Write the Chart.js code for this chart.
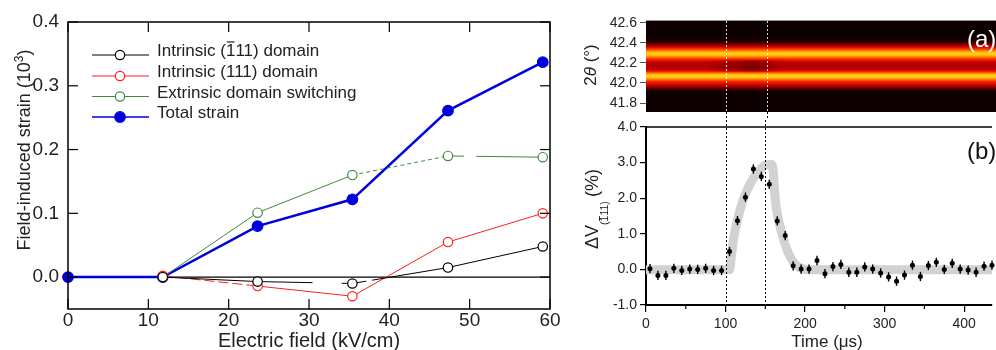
<!DOCTYPE html>
<html>
<head>
<meta charset="utf-8">
<script src="https://cdn.jsdelivr.net/npm/chart.js@4.4.0/dist/chart.umd.min.js"></script>
<style>
  html, body { margin: 0; padding: 0; background: #fff; }
  body { width: 996px; height: 350px; overflow: hidden; position: relative; }
  canvas { position: absolute; }
  #strainChart { left: 0; top: 0; }
  #heatChart { left: 575px; top: 0; }
  #dvChart { left: 575px; top: 120px; }
</style>
</head>
<body>
<canvas id="strainChart" width="580" height="350"></canvas>
<canvas id="heatChart" width="421" height="120"></canvas>
<canvas id="dvChart" width="421" height="230"></canvas>
<script>
// strain vs field (left panel)
const fieldKVcm = [0, 11.8, 23.6, 35.4, 47.3, 59.1];
const strainIntrinsicBar = [null, 0, -0.007, -0.010, 0.015, 0.048];
const strainIntrinsic111 = [null, 0.002, -0.014, -0.030, 0.055, 0.100];
const strainExtrinsic = [null, 0, 0.101, 0.160, 0.190, 0.188];
const strainTotal = [0, 0, 0.080, 0.122, 0.261, 0.337];
const seriesNames = ['Intrinsic (1\u030511) domain', 'Intrinsic (111) domain', 'Extrinsic domain switching', 'Total strain'];
const fieldTicks = [0, 10, 20, 30, 40, 50, 60];
const strainTicks = [0, 0.1, 0.2, 0.3, 0.4];

// time-resolved volume fraction change (right panel)
const timeUs = [5, 15, 25, 35, 45, 55, 65, 75, 85, 95, 105, 115, 125, 135, 145, 155, 165, 175, 185, 195,
  205, 215, 225, 235, 245, 255, 265, 275, 285, 295, 305, 315, 325, 335, 345, 355, 365, 375, 385, 395,
  405, 415, 425, 435];
const dV111 = [0.02, -0.17, -0.17, 0.03, -0.03, 0.01, 0.00, 0.03, -0.03, -0.03, 0.50, 1.37, 2.03, 2.82, 2.61, 2.39, 1.36, 0.95, 0.10, 0.01,
  0.01, 0.25, -0.12, 0.08, 0.14, -0.08, -0.08, 0.07, 0.01, -0.10, -0.21, -0.33, -0.16, 0.12, -0.20, 0.11, 0.20, 0.00, 0.17, 0.01,
  -0.02, -0.08, 0.09, 0.12];
const dVErr = 0.13;
const fitTime = [0, 105, 107, 110, 115, 120, 125, 130, 135, 140, 145, 150, 158, 160, 162, 164, 167, 172, 179, 185, 191, 197, 203, 435];
const fitDV = [-0.01, -0.01, 0.3, 0.85, 1.39, 1.8, 2.12, 2.36, 2.56, 2.72, 2.84, 2.93, 2.95, 2.75, 2.1, 1.7, 1.35, 0.92, 0.46, 0.22, 0.08, 0.02, -0.01, -0.01];
const pulseMarks = [100, 150];
const timeTicks = [0, 100, 200, 300, 400];
const timeMinorTicks = [50, 150, 250, 350];
const dvTicks = [-1, 0, 1, 2, 3, 4];

// 2theta intensity map: one profile over 2theta, dimmed between the peaks during the pulse
const thetaRows = [41.70, 41.72, 41.74, 41.76, 41.78, 41.80, 41.82, 41.84, 41.86, 41.88, 41.90, 41.92, 41.94, 41.96, 41.98,
  42.00, 42.02, 42.04, 42.06, 42.08, 42.10, 42.12, 42.14, 42.16, 42.18, 42.20, 42.22, 42.24, 42.26, 42.28, 42.30,
  42.32, 42.34, 42.36, 42.38, 42.40, 42.42, 42.44, 42.46, 42.48, 42.50, 42.52, 42.54, 42.56, 42.58, 42.60, 42.62];
const rowIntensity = [0.02, 0.02, 0.02, 0.02, 0.02, 0.02, 0.02, 0.02, 0.02, 0.02, 0.02, 0.05, 0.16, 0.32, 0.47,
  0.57, 0.66, 0.82, 0.93, 0.92, 0.78, 0.56, 0.44, 0.41, 0.41, 0.44, 0.53, 0.65, 0.80, 0.91, 0.93,
  0.82, 0.66, 0.50, 0.33, 0.17, 0.07, 0.04, 0.02, 0.02, 0.02, 0.02, 0.02, 0.02, 0.02, 0.02, 0.02];
const heatColStep = 10;
const valleyDim = [0, 0, 0, 0, 0, 0, 0, 0, 0.2, 0.4, 0.55, 0.7, 0.9, 1.0, 0.8, 0.4, 0.1, 0,
  0, 0, 0, 0, 0, 0, 0, 0, 0, 0, 0, 0, 0, 0, 0, 0, 0, 0, 0, 0, 0, 0, 0, 0, 0, 0];
const thetaTicks = [41.8, 42.0, 42.2, 42.4, 42.6];

const FONT = '"Liberation Sans", Arial, sans-serif';
Chart.defaults.font.family = FONT;
Chart.defaults.color = '#222';

function pts(xs, ys) {
  return xs.map((x, i) => ({ x: x, y: ys[i] })).filter(p => p.y !== null);
}

function line(ctx, x0, y0, x1, y1) {
  ctx.beginPath();
  ctx.moveTo(x0, y0);
  ctx.lineTo(x1, y1);
  ctx.stroke();
}

// keep chart areas where the layout padding puts them
function noLabelPadding(s) {
  s.paddingTop = 0;
  s.paddingBottom = 0;
  s.paddingLeft = 0;
  s.paddingRight = 0;
}

// draws text, putting a bar over any character followed by U+0305
function drawBarred(ctx, text, x, y, size) {
  const parts = text.split('\u0305');
  let cx = x;
  parts.forEach((p, i) => {
    ctx.fillText(p, cx, y);
    const w = ctx.measureText(p).width;
    if (i < parts.length - 1) {
      const cw = ctx.measureText(p.slice(-1)).width;
      ctx.fillRect(cx + w - cw + size * 0.05, y - size * 0.86, cw - size * 0.1, Math.max(1, size * 0.07));
    }
    cx += w;
  });
  return cx - x;
}
function barredWidth(ctx, text) {
  return ctx.measureText(text.replace(/\u0305/g, '')).width;
}

// ---------- left panel ----------
const seriesStyle = [
  { color: '#000000', width: 1, fill: '#ffffff', radius: 4.7, dash: [[], [55, 29, 8, 100], [14, 6, 200, 0], []] },
  { color: '#ff1f1f', width: 1, fill: '#ffffff', radius: 4.7, dash: [[10, 4], [], [], []] },
  { color: '#3d8b3d', width: 1, fill: '#ffffff', radius: 4.7, dash: [[], [], [4, 3], [16, 12, 200, 0]] },
  { color: '#0000dc', width: 2.5, fill: '#0000dc', radius: 5.3, dash: [] }
];
const strainData = [strainIntrinsicBar, strainIntrinsic111, strainExtrinsic, strainTotal];

const strainFrame = {
  id: 'strainFrame',
  beforeDatasetsDraw(chart) {
    const { ctx, chartArea: a, scales: { y } } = chart;
    ctx.save();
    ctx.strokeStyle = '#000';
    ctx.lineWidth = 1.2;
    const y0 = y.getPixelForValue(0);
    line(ctx, a.left, y0, a.right, y0);
    ctx.restore();
  },
  afterDatasetsDraw(chart) {
    const { ctx, chartArea: a, scales: { x, y } } = chart;
    ctx.save();
    ctx.strokeStyle = '#000';
    ctx.lineWidth = 1.2;
    fieldTicks.forEach(v => {
      const px = x.getPixelForValue(v);
      line(ctx, px, a.bottom, px, a.bottom - 10);
      line(ctx, px, a.top, px, a.top + 10);
    });
    strainTicks.forEach(v => {
      const py = y.getPixelForValue(v);
      line(ctx, a.left, py, a.left + 10, py);
      line(ctx, a.right, py, a.right - 10, py);
    });
    ctx.lineWidth = 1.5;
    ctx.strokeRect(a.left, a.top, a.right - a.left, a.bottom - a.top);
    ctx.restore();
  },
  afterDraw(chart) {
    const { ctx } = chart;
    ctx.save();
    // legend
    const rowY = [55, 76, 96.5, 117];
    seriesNames.forEach((name, i) => {
      const st = seriesStyle[i];
      const yy = rowY[i];
      ctx.strokeStyle = st.color;
      ctx.lineWidth = st.width === 1 ? 1 : 1.5;
      ctx.setLineDash([]);
      line(ctx, 92, yy, 149, yy);
      ctx.beginPath();
      ctx.arc(120, yy, st.radius, 0, Math.PI * 2);
      ctx.fillStyle = st.fill;
      ctx.fill();
      ctx.lineWidth = 1.2;
      ctx.stroke();
      ctx.fillStyle = '#222';
      ctx.font = '17px ' + FONT;
      ctx.textBaseline = 'alphabetic';
      ctx.textAlign = 'left';
      drawBarred(ctx, name, 157, yy + 1, 17);
    });
    // axis titles
    ctx.fillStyle = '#222';
    ctx.font = '20px ' + FONT;
    ctx.textAlign = 'center';
    ctx.textBaseline = 'middle';
    ctx.fillText('Electric field (kV/cm)', 309, 341);

    ctx.translate(23, 150);
    ctx.rotate(-Math.PI / 2);
    ctx.textAlign = 'left';
    ctx.textBaseline = 'alphabetic';
    const main = 'Field-induced strain (10';
    ctx.font = '18px ' + FONT;
    const w1 = ctx.measureText(main).width;
    ctx.font = '12px ' + FONT;
    const w2 = ctx.measureText('3').width;
    ctx.font = '18px ' + FONT;
    const w3 = ctx.measureText(')').width;
    let u = -(w1 + w2 + w3) / 2;
    ctx.fillText(main, u, 7);
    u += w1;
    ctx.font = '12px ' + FONT;
    ctx.fillText('3', u, 0);
    u += w2;
    ctx.font = '18px ' + FONT;
    ctx.fillText(')', u, 7);
    ctx.restore();
  }
};

new Chart(document.getElementById('strainChart'), {
  type: 'line',
  data: {
    datasets: strainData.map((vals, i) => {
      const st = seriesStyle[i];
      return {
        label: seriesNames[i],
        data: pts(fieldKVcm, vals),
        borderColor: st.color,
        borderWidth: st.width,
        pointRadius: st.radius,
        pointBorderWidth: 1.2,
        pointBackgroundColor: st.fill,
        pointBorderColor: st.color,
        tension: 0,
        clip: false,
        segment: { borderDash: c => st.dash[c.p0DataIndex] || [] }
      };
    })
  },
  options: {
    responsive: false,
    animation: false,
    events: [],
    layout: { padding: { top: 22, right: 30, left: 0, bottom: 0 } },
    plugins: { legend: { display: false }, tooltip: { enabled: false } },
    scales: {
      x: {
        type: 'linear', min: 0, max: 60,
        afterFit: s => { s.height = 41; noLabelPadding(s); },
        afterBuildTicks: s => { s.ticks = fieldTicks.map(v => ({ value: v })); },
        grid: { display: false, drawTicks: false },
        border: { display: false },
        ticks: { font: { size: 19 }, color: '#222', padding: 0, maxRotation: 0, autoSkip: false }
      },
      y: {
        type: 'linear', min: -0.05, max: 0.4,
        afterFit: s => { s.width = 68; noLabelPadding(s); },
        afterBuildTicks: s => { s.ticks = strainTicks.map(v => ({ value: v })); },
        grid: { display: false, drawTicks: false },
        border: { display: false },
        ticks: { font: { size: 19 }, color: '#222', padding: 9, callback: v => v.toFixed(1) }
      }
    }
  },
  plugins: [strainFrame]
});

// ---------- right panel (a): intensity map ----------
const hotStops = [[0, [5, 0, 0]], [0.2, [90, 0, 0]], [0.4, [175, 0, 0]], [0.55, [228, 8, 0]],
  [0.7, [255, 70, 0]], [0.82, [255, 140, 0]], [0.92, [255, 205, 20]], [1, [255, 235, 80]]];
function hot(v) {
  v = Math.max(0, Math.min(1, v));
  for (let k = 1; k < hotStops.length; k++) {
    if (v <= hotStops[k][0]) {
      const [a0, c0] = hotStops[k - 1];
      const [a1, c1] = hotStops[k];
      const f = (v - a0) / (a1 - a0);
      return c0.map((c, j) => Math.round(c + (c1[j] - c) * f));
    }
  }
  return hotStops[hotStops.length - 1][1];
}

const heatMap = {
  id: 'heatMap',
  beforeDatasetsDraw(chart) {
    const { ctx, chartArea: a, scales: { x, y } } = chart;
    const cols = valleyDim.length, rows = thetaRows.length;
    const off = document.createElement('canvas');
    off.width = cols;
    off.height = rows;
    const octx = off.getContext('2d');
    const img = octx.createImageData(cols, rows);
    for (let r = 0; r < rows; r++) {
      const j = rows - 1 - r;
      const th = thetaRows[j];
      for (let c = 0; c < cols; c++) {
        let v = rowIntensity[j];
        if (th > 42.11 && th < 42.23) v *= 1 - 0.3 * valleyDim[c];
        const col = hot(v);
        const k = (r * cols + c) * 4;
        img.data[k] = col[0];
        img.data[k + 1] = col[1];
        img.data[k + 2] = col[2];
        img.data[k + 3] = 255;
      }
    }
    octx.putImageData(img, 0, 0);
    const x0 = x.getPixelForValue(0), x1 = x.getPixelForValue(cols * heatColStep);
    const y0 = y.getPixelForValue(thetaRows[rows - 1] + 0.01), y1 = y.getPixelForValue(thetaRows[0] - 0.01);
    ctx.save();
    ctx.beginPath();
    ctx.rect(a.left, a.top, a.right - a.left, a.bottom - a.top);
    ctx.clip();
    ctx.imageSmoothingEnabled = true;
    ctx.drawImage(off, x0, y0, x1 - x0, y1 - y0);
    ctx.strokeStyle = 'rgba(255,255,255,0.85)';
    ctx.lineWidth = 1;
    ctx.setLineDash([2, 2]);
    pulseMarks.forEach(t => {
      const px = Math.round(x.getPixelForValue(t)) + 0.5;
      line(ctx, px, a.top, px, a.bottom);
    });
    ctx.restore();
  },
  afterDraw(chart) {
    const { ctx, chartArea: a, scales: { x } } = chart;
    ctx.save();
    ctx.strokeStyle = '#000';
    ctx.lineWidth = 1;
    ctx.setLineDash([2, 2]);
    pulseMarks.forEach(t => {
      const px = Math.round(x.getPixelForValue(t)) + 0.5;
      line(ctx, px, a.bottom, px, chart.height);
    });
    ctx.setLineDash([]);
    ctx.strokeStyle = '#9a9a9a';
    line(ctx, a.left, a.top - 0.5, a.right, a.top - 0.5);

    ctx.fillStyle = '#ffffff';
    ctx.font = '24px ' + FONT;
    ctx.textAlign = 'left';
    ctx.textBaseline = 'middle';
    ctx.fillText('(a)', 392, 40);

    ctx.fillStyle = '#222';
    ctx.translate(15, 65);
    ctx.rotate(-Math.PI / 2);
    ctx.textBaseline = 'alphabetic';
    ctx.font = '17px ' + FONT;
    const wa = ctx.measureText('2').width;
    ctx.font = 'italic 17px ' + FONT;
    const wb = ctx.measureText('\u03b8').width;
    ctx.font = '17px ' + FONT;
    const wc = ctx.measureText(' (\u00b0)').width;
    let u = -(wa + wb + wc) / 2;
    ctx.fillText('2', u, 6);
    u += wa;
    ctx.font = 'italic 17px ' + FONT;
    ctx.fillText('\u03b8', u, 6);
    u += wb;
    ctx.font = '17px ' + FONT;
    ctx.fillText(' (\u00b0)', u, 6);
    ctx.restore();
  }
};

new Chart(document.getElementById('heatChart'), {
  type: 'scatter',
  data: { datasets: [] },
  options: {
    responsive: false,
    animation: false,
    events: [],
    layout: { padding: { top: 21, right: 0, left: 0, bottom: 8 } },
    plugins: { legend: { display: false }, tooltip: { enabled: false } },
    scales: {
      x: { type: 'linear', min: 0, max: 435, display: false },
      y: {
        type: 'linear', min: 41.71, max: 42.62,
        afterFit: s => { s.width = 71; noLabelPadding(s); },
        afterBuildTicks: s => { s.ticks = thetaTicks.map(v => ({ value: v })); },
        grid: { drawOnChartArea: false, drawTicks: true, tickLength: 6, color: '#555', lineWidth: 1 },
        border: { display: false },
        ticks: { font: { size: 14 }, color: '#222', padding: 3, callback: v => v.toFixed(1) }
      }
    }
  },
  plugins: [heatMap]
});

// ---------- right panel (b): volume fraction change ----------
const dvDecor = {
  id: 'dvDecor',
  afterDatasetsDraw(chart) {
    const { ctx, chartArea: a, scales: { x, y } } = chart;
    ctx.save();
    // error bars
    ctx.strokeStyle = '#000';
    ctx.lineWidth = 1.4;
    timeUs.forEach((t, i) => {
      const px = x.getPixelForValue(t);
      line(ctx, px, y.getPixelForValue(dV111[i] - dVErr), px, y.getPixelForValue(dV111[i] + dVErr));
    });
    // pulse window
    ctx.lineWidth = 1;
    ctx.setLineDash([2, 2]);
    pulseMarks.forEach(t => {
      const px = Math.round(x.getPixelForValue(t)) + 0.5;
      line(ctx, px, 0, px, a.bottom);
    });
    ctx.setLineDash([]);
    // frame top and minor ticks
    ctx.lineWidth = 1.5;
    line(ctx, a.left, a.top, a.right, a.top);
    ctx.lineWidth = 1.2;
    timeMinorTicks.forEach(t => {
      const px = x.getPixelForValue(t);
      line(ctx, px, a.bottom, px, a.bottom + 4);
    });
    ctx.restore();
  },
  afterDraw(chart) {
    const { ctx } = chart;
    ctx.save();
    ctx.fillStyle = '#111';
    ctx.font = '24px ' + FONT;
    ctx.textAlign = 'left';
    ctx.textBaseline = 'middle';
    ctx.fillText('(b)', 392, 32);

    ctx.fillStyle = '#222';
    ctx.font = '17px ' + FONT;
    ctx.textAlign = 'center';
    ctx.fillText('Time (\u03bcs)', 252, 222);

    ctx.translate(17, 89);
    ctx.rotate(-Math.PI / 2);
    ctx.textAlign = 'left';
    ctx.textBaseline = 'alphabetic';
    const sub = '(1\u030511)';
    ctx.font = '18px ' + FONT;
    const w1 = ctx.measureText('\u0394V').width;
    const w3 = ctx.measureText(' (%)').width;
    ctx.font = '10.5px ' + FONT;
    const w2 = barredWidth(ctx, sub);
    let u = -(w1 + w2 + w3) / 2;
    ctx.font = '18px ' + FONT;
    ctx.fillText('\u0394V', u, 6);
    u += w1;
    ctx.font = '10.5px ' + FONT;
    drawBarred(ctx, sub, u, 16, 10.5);
    u += w2;
    ctx.font = '18px ' + FONT;
    ctx.fillText(' (%)', u, 6);
    ctx.restore();
  }
};

new Chart(document.getElementById('dvChart'), {
  type: 'scatter',
  data: {
    datasets: [
      {
        type: 'line',
        data: pts(fitTime, fitDV),
        borderColor: '#d2d2d2',
        borderWidth: 9,
        borderCapStyle: 'butt',
        pointRadius: 0,
        cubicInterpolationMode: 'monotone',
        order: 2
      },
      {
        data: pts(timeUs, dV111),
        pointRadius: 2.5,
        pointBackgroundColor: '#000',
        pointBorderWidth: 0,
        clip: false,
        order: 1
      }
    ]
  },
  options: {
    responsive: false,
    animation: false,
    events: [],
    layout: { padding: { top: 7, right: 0, left: 0, bottom: 0 } },
    plugins: { legend: { display: false }, tooltip: { enabled: false } },
    scales: {
      x: {
        type: 'linear', min: 0, max: 435,
        afterFit: s => { s.height = 45; noLabelPadding(s); },
        afterBuildTicks: s => { s.ticks = timeTicks.map(v => ({ value: v })); },
        grid: { drawOnChartArea: false, drawTicks: true, tickLength: 7, color: '#000', lineWidth: 1.2 },
        border: { display: true, color: '#000', width: 2 },
        ticks: { font: { size: 14 }, color: '#222', padding: 4, maxRotation: 0, autoSkip: false }
      },
      y: {
        type: 'linear', min: -1, max: 4,
        afterFit: s => { s.width = 71; noLabelPadding(s); },
        afterBuildTicks: s => { s.ticks = dvTicks.map(v => ({ value: v })); },
        grid: { drawOnChartArea: false, drawTicks: true, tickLength: 6, color: '#000', lineWidth: 1.2 },
        border: { display: true, color: '#000', width: 2 },
        ticks: { font: { size: 14 }, color: '#222', padding: 3, callback: v => v.toFixed(1) }
      }
    }
  },
  plugins: [dvDecor]
});
</script>
</body>
</html>
